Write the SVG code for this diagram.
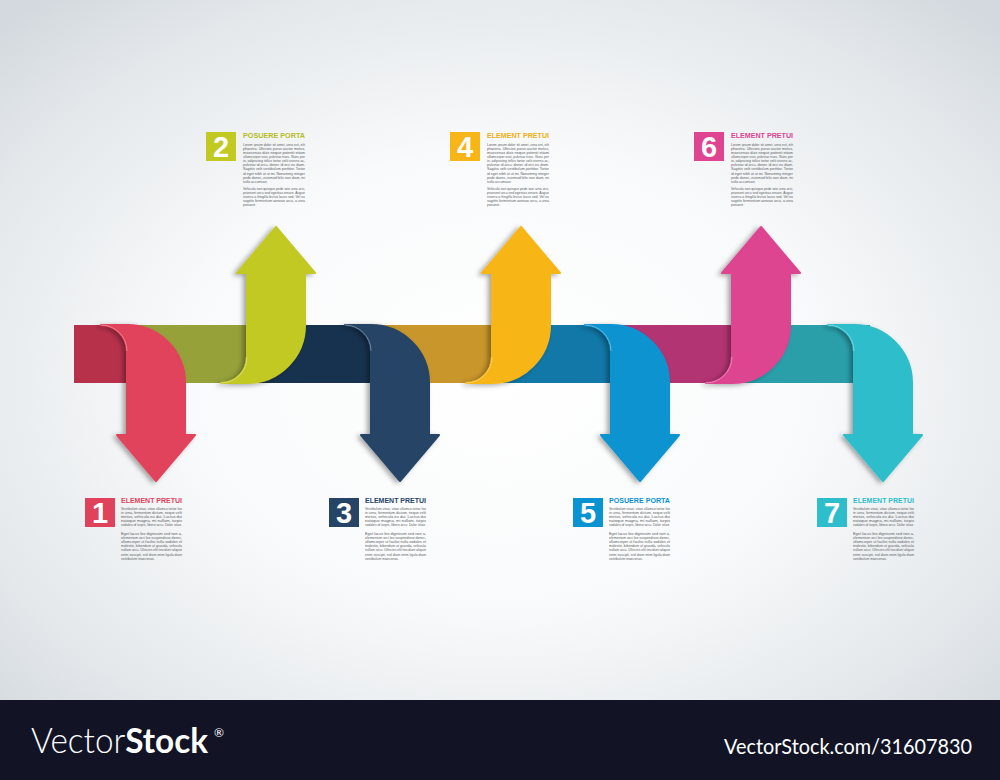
<svg xmlns="http://www.w3.org/2000/svg" width="1000" height="780" viewBox="0 0 1000 780">
<defs>
<radialGradient id="bg" cx="500" cy="380" r="560" gradientUnits="userSpaceOnUse" gradientTransform="translate(500 380) scale(1.25 0.9) translate(-500 -380)">
<stop offset="0" stop-color="#ffffff"/>
<stop offset="0.45" stop-color="#f9fafb"/>
<stop offset="0.8" stop-color="#e4e8eb"/>
<stop offset="1" stop-color="#d3d9de"/>
</radialGradient>
<filter id="sh" x="-30%" y="-30%" width="160%" height="160%">
<feDropShadow dx="-3" dy="1.5" stdDeviation="2.5" flood-color="#000" flood-opacity="0.35"/>
</filter>
<style>
.body{font-family:"Liberation Sans",Arial,sans-serif;font-size:3.4px;fill:#5b5f63}
.title{font-family:"Liberation Sans",Arial,sans-serif;font-weight:bold;font-size:7.4px}
.num{font-family:"Liberation Sans",Arial,sans-serif;font-weight:bold;font-size:29px;fill:#ffffff;text-anchor:middle}
.arrow{filter:url(#sh);stroke-width:2;stroke-linejoin:round}
.hl{fill:none;stroke:#ffffff;stroke-opacity:0.35;stroke-width:1}
</style>
</defs>
<rect x="0" y="0" width="1000" height="700" fill="url(#bg)"/>

<g id="connectors">
<rect x="74" y="325" width="54" height="58" fill="#b8314b"/>
<rect x="128" y="325" width="120" height="58" fill="#97a13a"/>
<rect x="248" y="325" width="124" height="58" fill="#17324f"/>
<rect x="372" y="325" width="121" height="58" fill="#c8962b"/>
<rect x="493" y="325" width="119" height="58" fill="#1178a8"/>
<rect x="612" y="325" width="121" height="58" fill="#b33473"/>
<rect x="733" y="325" width="137" height="58" fill="#2a9faa"/>
</g>

<g id="step-1">
<path class="arrow" fill="#e1425b" stroke="#e1425b" d="M101,325 L127,325 A58 58 0 0 1 185,383 L185,435 L195,435 L156,481 L117,435 L127,435 L127,351 A26 26 0 0 0 101,325 Z"/>
<path class="hl" d="M127,351 A26 26 0 0 0 101,325"/>
<rect x="85" y="498" width="30" height="29" fill="#e1425b"/>
<text class="num" x="100" y="523">1</text>
<text class="title" x="121" y="503" fill="#e1425b" textLength="61" lengthAdjust="spacingAndGlyphs">ELEMENT PRETUI</text>
<g class="body" transform="translate(121,0)">
<text x="0" y="509.5" textLength="61" lengthAdjust="spacingAndGlyphs">Vestibulum vitae, vitae ullamco tortor leo</text>
<text x="0" y="513.7" textLength="61" lengthAdjust="spacingAndGlyphs">in urna, fermentum dictum, neque velit</text>
<text x="0" y="517.9" textLength="61" lengthAdjust="spacingAndGlyphs">metus, vehicula eu dui. Luctus dui</text>
<text x="0" y="522.1" textLength="61" lengthAdjust="spacingAndGlyphs">natoque magna, mi nullam, turpis</text>
<text x="0" y="526.3" textLength="61" lengthAdjust="spacingAndGlyphs">sodales id turpis, libero arcu. Dolor vitae.</text>
<text x="0" y="534.5" textLength="61" lengthAdjust="spacingAndGlyphs">Eget lacus leo dignissim sed non a,</text>
<text x="0" y="538.7" textLength="61" lengthAdjust="spacingAndGlyphs">elementum orci leo suspendisse donec,</text>
<text x="0" y="542.9" textLength="61" lengthAdjust="spacingAndGlyphs">ullamcorper ut facilisi nulla sodales et</text>
<text x="0" y="547.1" textLength="61" lengthAdjust="spacingAndGlyphs">molestie, bibendum ut gravida, vehicula</text>
<text x="0" y="551.3" textLength="61" lengthAdjust="spacingAndGlyphs">nullam arcu. Ultricies elit tincidunt aliquet</text>
<text x="0" y="555.5" textLength="61" lengthAdjust="spacingAndGlyphs">enim suscipit, nisl diam enim ligula diam</text>
<text x="0" y="559.7">vestibulum maecenas.</text>
</g>
</g>

<g id="step-2">
<path class="arrow" fill="#c2c921" stroke="#c2c921" d="M221,383 L247,383 A58 58 0 0 0 305,325 L305,273 L315,273 L276,227 L237,273 L247,273 L247,357 A26 26 0 0 1 221,383 Z"/>
<path class="hl" d="M247,357 A26 26 0 0 1 221,383"/>
<rect x="206" y="132" width="30" height="29" fill="#c2c921"/>
<text class="num" x="221" y="157">2</text>
<text class="title" x="243" y="137.5" fill="#b5bc1c" textLength="62" lengthAdjust="spacingAndGlyphs">POSUERE PORTA</text>
<g class="body" transform="translate(243,0)">
<text x="0" y="145.5" textLength="62" lengthAdjust="spacingAndGlyphs">Lorem ipsum dolor sit amet, urna est, elit</text>
<text x="0" y="149.65" textLength="62" lengthAdjust="spacingAndGlyphs">pharetra. Ultricies purus auctor metus,</text>
<text x="0" y="153.8" textLength="62" lengthAdjust="spacingAndGlyphs">maecenas duis neque potenti etiam</text>
<text x="0" y="157.95" textLength="62" lengthAdjust="spacingAndGlyphs">ullamcorper erat, pulvinar nunc. Nunc per</text>
<text x="0" y="162.1" textLength="62" lengthAdjust="spacingAndGlyphs">in, adipiscing tellus tortor velit viverra ac,</text>
<text x="0" y="166.25" textLength="62" lengthAdjust="spacingAndGlyphs">pulvinar id arcu, donec id orci eu diam.</text>
<text x="0" y="170.4" textLength="62" lengthAdjust="spacingAndGlyphs">Sagittis velit vestibulum porttitor. Tortor</text>
<text x="0" y="174.55" textLength="62" lengthAdjust="spacingAndGlyphs">id eget nibh ut ut mi. Nonummy integer</text>
<text x="0" y="178.7" textLength="62" lengthAdjust="spacingAndGlyphs">pede donec, euismod felis non diam, mi</text>
<text x="0" y="182.85">nulla accumsan.</text>
<text x="0" y="189.5" textLength="62" lengthAdjust="spacingAndGlyphs">Vehicula non quisque pede wisi urna orci,</text>
<text x="0" y="193.65" textLength="62" lengthAdjust="spacingAndGlyphs">praesent arcu sed egestas ornare. Augue</text>
<text x="0" y="197.8" textLength="62" lengthAdjust="spacingAndGlyphs">viverra a fringilla lectus lacus sed. Vel eu</text>
<text x="0" y="201.95" textLength="62" lengthAdjust="spacingAndGlyphs">sagittis fermentum aenean arcu, a urna</text>
<text x="0" y="206.1">posuere.</text>
</g>
</g>

<g id="step-3">
<path class="arrow" fill="#264466" stroke="#264466" d="M345,325 L371,325 A58 58 0 0 1 429,383 L429,435 L439,435 L400,481 L361,435 L371,435 L371,351 A26 26 0 0 0 345,325 Z"/>
<path class="hl" d="M371,351 A26 26 0 0 0 345,325"/>
<rect x="329" y="498" width="30" height="29" fill="#264466"/>
<text class="num" x="344" y="523">3</text>
<text class="title" x="365" y="503" fill="#264466" textLength="61" lengthAdjust="spacingAndGlyphs">ELEMENT PRETUI</text>
<g class="body" transform="translate(365,0)">
<text x="0" y="509.5" textLength="61" lengthAdjust="spacingAndGlyphs">Vestibulum vitae, vitae ullamco tortor leo</text>
<text x="0" y="513.7" textLength="61" lengthAdjust="spacingAndGlyphs">in urna, fermentum dictum, neque velit</text>
<text x="0" y="517.9" textLength="61" lengthAdjust="spacingAndGlyphs">metus, vehicula eu dui. Luctus dui</text>
<text x="0" y="522.1" textLength="61" lengthAdjust="spacingAndGlyphs">natoque magna, mi nullam, turpis</text>
<text x="0" y="526.3" textLength="61" lengthAdjust="spacingAndGlyphs">sodales id turpis, libero arcu. Dolor vitae.</text>
<text x="0" y="534.5" textLength="61" lengthAdjust="spacingAndGlyphs">Eget lacus leo dignissim sed non a,</text>
<text x="0" y="538.7" textLength="61" lengthAdjust="spacingAndGlyphs">elementum orci leo suspendisse donec,</text>
<text x="0" y="542.9" textLength="61" lengthAdjust="spacingAndGlyphs">ullamcorper ut facilisi nulla sodales et</text>
<text x="0" y="547.1" textLength="61" lengthAdjust="spacingAndGlyphs">molestie, bibendum ut gravida, vehicula</text>
<text x="0" y="551.3" textLength="61" lengthAdjust="spacingAndGlyphs">nullam arcu. Ultricies elit tincidunt aliquet</text>
<text x="0" y="555.5" textLength="61" lengthAdjust="spacingAndGlyphs">enim suscipit, nisl diam enim ligula diam</text>
<text x="0" y="559.7">vestibulum maecenas.</text>
</g>
</g>

<g id="step-4">
<path class="arrow" fill="#f8b517" stroke="#f8b517" d="M466,383 L492,383 A58 58 0 0 0 550,325 L550,273 L560,273 L521,227 L482,273 L492,273 L492,357 A26 26 0 0 1 466,383 Z"/>
<path class="hl" d="M492,357 A26 26 0 0 1 466,383"/>
<rect x="450" y="132" width="30" height="29" fill="#f8b517"/>
<text class="num" x="465" y="157">4</text>
<text class="title" x="487" y="137.5" fill="#f3ae14" textLength="62" lengthAdjust="spacingAndGlyphs">ELEMENT PRETUI</text>
<g class="body" transform="translate(487,0)">
<text x="0" y="145.5" textLength="62" lengthAdjust="spacingAndGlyphs">Lorem ipsum dolor sit amet, urna est, elit</text>
<text x="0" y="149.65" textLength="62" lengthAdjust="spacingAndGlyphs">pharetra. Ultricies purus auctor metus,</text>
<text x="0" y="153.8" textLength="62" lengthAdjust="spacingAndGlyphs">maecenas duis neque potenti etiam</text>
<text x="0" y="157.95" textLength="62" lengthAdjust="spacingAndGlyphs">ullamcorper erat, pulvinar nunc. Nunc per</text>
<text x="0" y="162.1" textLength="62" lengthAdjust="spacingAndGlyphs">in, adipiscing tellus tortor velit viverra ac,</text>
<text x="0" y="166.25" textLength="62" lengthAdjust="spacingAndGlyphs">pulvinar id arcu, donec id orci eu diam.</text>
<text x="0" y="170.4" textLength="62" lengthAdjust="spacingAndGlyphs">Sagittis velit vestibulum porttitor. Tortor</text>
<text x="0" y="174.55" textLength="62" lengthAdjust="spacingAndGlyphs">id eget nibh ut ut mi. Nonummy integer</text>
<text x="0" y="178.7" textLength="62" lengthAdjust="spacingAndGlyphs">pede donec, euismod felis non diam, mi</text>
<text x="0" y="182.85">nulla accumsan.</text>
<text x="0" y="189.5" textLength="62" lengthAdjust="spacingAndGlyphs">Vehicula non quisque pede wisi urna orci,</text>
<text x="0" y="193.65" textLength="62" lengthAdjust="spacingAndGlyphs">praesent arcu sed egestas ornare. Augue</text>
<text x="0" y="197.8" textLength="62" lengthAdjust="spacingAndGlyphs">viverra a fringilla lectus lacus sed. Vel eu</text>
<text x="0" y="201.95" textLength="62" lengthAdjust="spacingAndGlyphs">sagittis fermentum aenean arcu, a urna</text>
<text x="0" y="206.1">posuere.</text>
</g>
</g>

<g id="step-5">
<path class="arrow" fill="#0993d0" stroke="#0993d0" d="M585,325 L611,325 A58 58 0 0 1 669,383 L669,435 L679,435 L640,481 L601,435 L611,435 L611,351 A26 26 0 0 0 585,325 Z"/>
<path class="hl" d="M611,351 A26 26 0 0 0 585,325"/>
<rect x="573" y="498" width="30" height="29" fill="#0993d0"/>
<text class="num" x="588" y="523">5</text>
<text class="title" x="609" y="503" fill="#0993d0" textLength="61" lengthAdjust="spacingAndGlyphs">POSUERE PORTA</text>
<g class="body" transform="translate(609,0)">
<text x="0" y="509.5" textLength="61" lengthAdjust="spacingAndGlyphs">Vestibulum vitae, vitae ullamco tortor leo</text>
<text x="0" y="513.7" textLength="61" lengthAdjust="spacingAndGlyphs">in urna, fermentum dictum, neque velit</text>
<text x="0" y="517.9" textLength="61" lengthAdjust="spacingAndGlyphs">metus, vehicula eu dui. Luctus dui</text>
<text x="0" y="522.1" textLength="61" lengthAdjust="spacingAndGlyphs">natoque magna, mi nullam, turpis</text>
<text x="0" y="526.3" textLength="61" lengthAdjust="spacingAndGlyphs">sodales id turpis, libero arcu. Dolor vitae.</text>
<text x="0" y="534.5" textLength="61" lengthAdjust="spacingAndGlyphs">Eget lacus leo dignissim sed non a,</text>
<text x="0" y="538.7" textLength="61" lengthAdjust="spacingAndGlyphs">elementum orci leo suspendisse donec,</text>
<text x="0" y="542.9" textLength="61" lengthAdjust="spacingAndGlyphs">ullamcorper ut facilisi nulla sodales et</text>
<text x="0" y="547.1" textLength="61" lengthAdjust="spacingAndGlyphs">molestie, bibendum ut gravida, vehicula</text>
<text x="0" y="551.3" textLength="61" lengthAdjust="spacingAndGlyphs">nullam arcu. Ultricies elit tincidunt aliquet</text>
<text x="0" y="555.5" textLength="61" lengthAdjust="spacingAndGlyphs">enim suscipit, nisl diam enim ligula diam</text>
<text x="0" y="559.7">vestibulum maecenas.</text>
</g>
</g>

<g id="step-6">
<path class="arrow" fill="#de4490" stroke="#de4490" d="M706,383 L732,383 A58 58 0 0 0 790,325 L790,273 L800,273 L761,227 L722,273 L732,273 L732,357 A26 26 0 0 1 706,383 Z"/>
<path class="hl" d="M732,357 A26 26 0 0 1 706,383"/>
<rect x="694" y="132" width="30" height="29" fill="#de4490"/>
<text class="num" x="709" y="157">6</text>
<text class="title" x="731" y="137.5" fill="#de4490" textLength="62" lengthAdjust="spacingAndGlyphs">ELEMENT PRETUI</text>
<g class="body" transform="translate(731,0)">
<text x="0" y="145.5" textLength="62" lengthAdjust="spacingAndGlyphs">Lorem ipsum dolor sit amet, urna est, elit</text>
<text x="0" y="149.65" textLength="62" lengthAdjust="spacingAndGlyphs">pharetra. Ultricies purus auctor metus,</text>
<text x="0" y="153.8" textLength="62" lengthAdjust="spacingAndGlyphs">maecenas duis neque potenti etiam</text>
<text x="0" y="157.95" textLength="62" lengthAdjust="spacingAndGlyphs">ullamcorper erat, pulvinar nunc. Nunc per</text>
<text x="0" y="162.1" textLength="62" lengthAdjust="spacingAndGlyphs">in, adipiscing tellus tortor velit viverra ac,</text>
<text x="0" y="166.25" textLength="62" lengthAdjust="spacingAndGlyphs">pulvinar id arcu, donec id orci eu diam.</text>
<text x="0" y="170.4" textLength="62" lengthAdjust="spacingAndGlyphs">Sagittis velit vestibulum porttitor. Tortor</text>
<text x="0" y="174.55" textLength="62" lengthAdjust="spacingAndGlyphs">id eget nibh ut ut mi. Nonummy integer</text>
<text x="0" y="178.7" textLength="62" lengthAdjust="spacingAndGlyphs">pede donec, euismod felis non diam, mi</text>
<text x="0" y="182.85">nulla accumsan.</text>
<text x="0" y="189.5" textLength="62" lengthAdjust="spacingAndGlyphs">Vehicula non quisque pede wisi urna orci,</text>
<text x="0" y="193.65" textLength="62" lengthAdjust="spacingAndGlyphs">praesent arcu sed egestas ornare. Augue</text>
<text x="0" y="197.8" textLength="62" lengthAdjust="spacingAndGlyphs">viverra a fringilla lectus lacus sed. Vel eu</text>
<text x="0" y="201.95" textLength="62" lengthAdjust="spacingAndGlyphs">sagittis fermentum aenean arcu, a urna</text>
<text x="0" y="206.1">posuere.</text>
</g>
</g>

<g id="step-7">
<path class="arrow" fill="#2ebecb" stroke="#2ebecb" d="M828,325 L854,325 A58 58 0 0 1 912,383 L912,435 L922,435 L883,481 L844,435 L854,435 L854,351 A26 26 0 0 0 828,325 Z"/>
<path class="hl" d="M854,351 A26 26 0 0 0 828,325"/>
<rect x="817" y="498" width="30" height="29" fill="#2ebecb"/>
<text class="num" x="832" y="523">7</text>
<text class="title" x="853" y="503" fill="#2ebecb" textLength="61" lengthAdjust="spacingAndGlyphs">ELEMENT PRETUI</text>
<g class="body" transform="translate(853,0)">
<text x="0" y="509.5" textLength="61" lengthAdjust="spacingAndGlyphs">Vestibulum vitae, vitae ullamco tortor leo</text>
<text x="0" y="513.7" textLength="61" lengthAdjust="spacingAndGlyphs">in urna, fermentum dictum, neque velit</text>
<text x="0" y="517.9" textLength="61" lengthAdjust="spacingAndGlyphs">metus, vehicula eu dui. Luctus dui</text>
<text x="0" y="522.1" textLength="61" lengthAdjust="spacingAndGlyphs">natoque magna, mi nullam, turpis</text>
<text x="0" y="526.3" textLength="61" lengthAdjust="spacingAndGlyphs">sodales id turpis, libero arcu. Dolor vitae.</text>
<text x="0" y="534.5" textLength="61" lengthAdjust="spacingAndGlyphs">Eget lacus leo dignissim sed non a,</text>
<text x="0" y="538.7" textLength="61" lengthAdjust="spacingAndGlyphs">elementum orci leo suspendisse donec,</text>
<text x="0" y="542.9" textLength="61" lengthAdjust="spacingAndGlyphs">ullamcorper ut facilisi nulla sodales et</text>
<text x="0" y="547.1" textLength="61" lengthAdjust="spacingAndGlyphs">molestie, bibendum ut gravida, vehicula</text>
<text x="0" y="551.3" textLength="61" lengthAdjust="spacingAndGlyphs">nullam arcu. Ultricies elit tincidunt aliquet</text>
<text x="0" y="555.5" textLength="61" lengthAdjust="spacingAndGlyphs">enim suscipit, nisl diam enim ligula diam</text>
<text x="0" y="559.7">vestibulum maecenas.</text>
</g>
</g>

<g id="footer">
<rect x="0" y="700" width="1000" height="80" fill="#121426"/>
<text x="31" y="753" font-family="Lato, 'Liberation Sans', sans-serif" font-size="35" fill="#ffffff" textLength="177" lengthAdjust="spacingAndGlyphs"><tspan font-weight="300">Vector</tspan><tspan font-weight="bold">Stock</tspan></text>
<text x="214" y="737" font-family="Lato, 'Liberation Sans', sans-serif" font-size="12" fill="#ffffff">®</text>
<text x="724" y="754" font-family="Lato, 'Liberation Sans', sans-serif" font-size="22" fill="#ffffff" textLength="248" lengthAdjust="spacingAndGlyphs">VectorStock.com/31607830</text>
</g>
</svg>
